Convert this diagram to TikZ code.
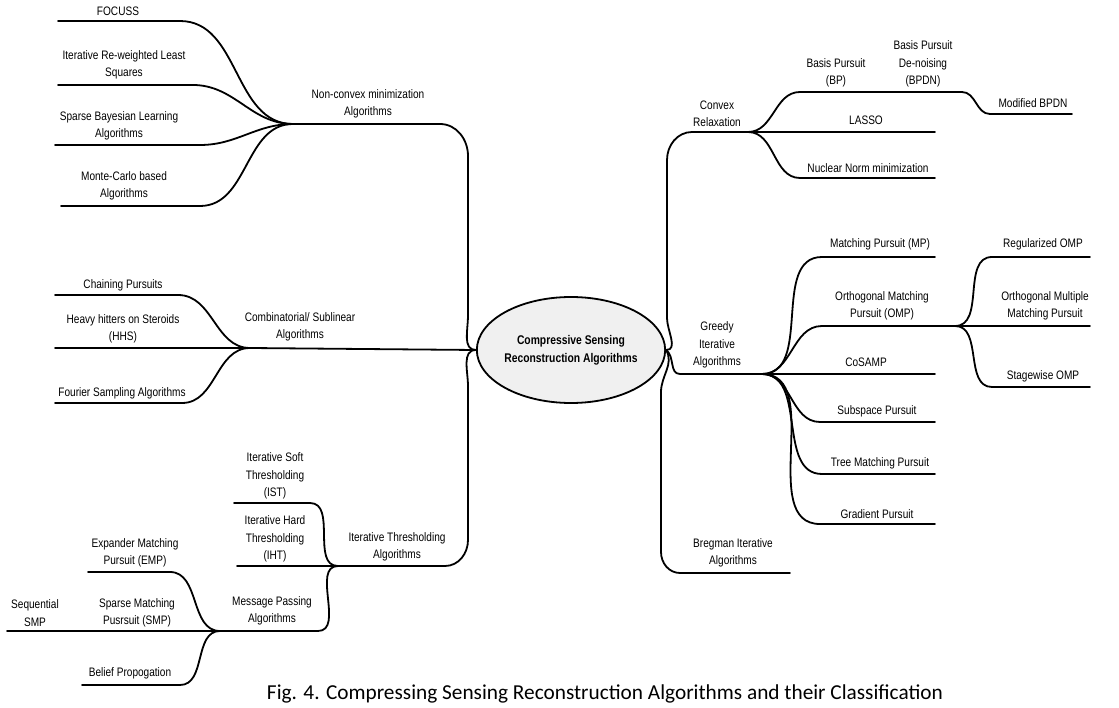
\documentclass[tikz,border=0pt]{standalone}
\usepackage{fontspec}
\usetikzlibrary{shapes.geometric}
\setmainfont{Liberation Sans}
\newfontfamily\labelfont[FakeStretch=0.82]{Liberation Sans}
\newfontfamily\capfont{Carlito}
\begin{document}
\begin{tikzpicture}[x=1pt,y=-1pt,
  lbl/.style={font=\labelfont\fontsize{12.3}{17.5}\selectfont, align=center, inner sep=0pt},
  branch/.style={line width=1.8pt, line cap=round, line join=round},
  hub/.style={ellipse, draw, line width=1.8pt, fill=black!6, minimum width=152pt, minimum height=106pt, inner sep=0pt,
    font=\labelfont\bfseries\fontsize{12.6}{18}\selectfont, align=center}]
\useasboundingbox (0,0) rectangle (1119,708);

% ---------- coordinates ----------
% non-convex
\coordinate (ncJ) at (293,124);
\coordinate (ncA) at (440,124);
\coordinate (ncB) at (468,156);
\coordinate (ncC) at (468,316);
\coordinate (focL) at (58,21);  \coordinate (focR) at (180,21);
\coordinate (irlL) at (58,85);  \coordinate (irlR) at (193,85);
\coordinate (sblL) at (55,145); \coordinate (sblR) at (200,145);
\coordinate (mcL) at (61,206);  \coordinate (mcR) at (200,206);
% combinatorial
\coordinate (cbJ) at (250,348);
\coordinate (chL) at (55,295);  \coordinate (chR) at (178,295);
\coordinate (hhL) at (55,348);
\coordinate (foL) at (55,403);  \coordinate (foR) at (182,403);
% iterative thresholding
\coordinate (itJ) at (338,566);
\coordinate (itA) at (445,566);
\coordinate (itB) at (468,540);
\coordinate (itC) at (468,386);
\coordinate (isL) at (234,503); \coordinate (isR) at (310,503);
\coordinate (ihL) at (237,566);
% message passing
\coordinate (mpJ) at (220,631);
\coordinate (mpA) at (318,631);
\coordinate (emL) at (88,572);  \coordinate (emR) at (170,572);
\coordinate (smL) at (85,631);
\coordinate (sqL) at (7,631);
\coordinate (bpL) at (82,685);  \coordinate (bpR) at (180,685);
% convex
\coordinate (cvA) at (667,318);
\coordinate (cvB) at (667,160);
\coordinate (cvC) at (692,132);
\coordinate (cvJ) at (748,132);
\coordinate (bsL) at (800,92);  \coordinate (bsR) at (880,92);
\coordinate (bdJ) at (962,92);
\coordinate (mbL) at (990,114); \coordinate (mbR) at (1072,114);
\coordinate (laR) at (935,132);
\coordinate (nnL) at (800,178); \coordinate (nnR) at (935,178);
% greedy
\coordinate (grA) at (680,374);
\coordinate (grJ) at (762,374);
\coordinate (mpuL) at (822,257); \coordinate (mpuR) at (935,257);
\coordinate (omL) at (822,326);
\coordinate (omJ) at (955,326);
\coordinate (roL) at (992,257); \coordinate (roR) at (1090,257);
\coordinate (mmR) at (1090,326);
\coordinate (swL) at (992,387); \coordinate (swR) at (1090,387);
\coordinate (coR) at (935,374);
\coordinate (ssL) at (820,422); \coordinate (ssR) at (935,422);
\coordinate (tmL) at (822,474); \coordinate (tmR) at (935,474);
\coordinate (gpL) at (820,524); \coordinate (gpR) at (935,524);
% bregman
\coordinate (brA) at (661,392);
\coordinate (brB) at (661,552);
\coordinate (brC) at (680,573);
\coordinate (brR) at (790,573);

% ---------- hub ----------
\node[hub] (cs) at (571,350) {Compressive Sensing\\Reconstruction Algorithms};

% ---------- labels ----------
\node[lbl] (nc) at (368,104) {Non-convex minimization\\Algorithms};
\node[lbl] (foc) at (118,11) {FOCUSS};
\node[lbl] (irl) at (124,65) {Iterative Re-weighted Least\\Squares};
\node[lbl] (sbl) at (119,126) {Sparse Bayesian Learning\\Algorithms};
\node[lbl] (mc) at (124,186) {Monte-Carlo based\\Algorithms};

\node[lbl] (cb) at (300,327) {Combinatorial/ Sublinear\\Algorithms};
\node[lbl] (ch) at (123,285) {Chaining Pursuits};
\node[lbl] (hh) at (123,329) {Heavy hitters on Steroids\\(HHS)};
\node[lbl] (fo) at (122,393) {Fourier Sampling Algorithms};

\node[lbl] (it) at (397,547) {Iterative Thresholding\\Algorithms};
\node[lbl] (is) at (275,476) {Iterative Soft\\Thresholding\\(IST)};
\node[lbl] (ih) at (275,539) {Iterative Hard\\Thresholding\\(IHT)};
\node[lbl] (mp) at (272,611) {Message Passing\\Algorithms};
\node[lbl] (em) at (135,553) {Expander Matching\\Pursuit (EMP)};
\node[lbl] (sm) at (137,613) {Sparse Matching\\Pusrsuit (SMP)};
\node[lbl] (sq) at (35,613) {Sequential\\SMP};
\node[lbl] (bp) at (130,673) {Belief Propogation};

\node[lbl] (cv) at (717,114) {Convex\\Relaxation};
\node[lbl] (bs) at (836,73) {Basis Pursuit\\(BP)};
\node[lbl] (bd) at (923,64) {Basis Pursuit\\De-noising\\(BPDN)};
\node[lbl] (mb) at (1033,103) {Modified BPDN};
\node[lbl] (la) at (866,120) {LASSO};
\node[lbl] (nn) at (868,168) {Nuclear Norm minimization};

\node[lbl] (gr) at (717,345) {Greedy\\Iterative\\Algorithms};
\node[lbl] (mpu) at (880,244) {Matching Pursuit (MP)};
\node[lbl] (om) at (882,306) {Orthogonal Matching\\Pursuit (OMP)};
\node[lbl] (ro) at (1043,244) {Regularized OMP};
\node[lbl] (mm) at (1045,306) {Orthogonal Multiple\\Matching Pursuit};
\node[lbl] (sw) at (1043,376) {Stagewise OMP};
\node[lbl] (co) at (866,362) {CoSAMP};
\node[lbl] (ss) at (877,411) {Subspace Pursuit};
\node[lbl] (tm) at (880,463) {Tree Matching Pursuit};
\node[lbl] (gp) at (877,514) {Gradient Pursuit};

\node[lbl] (br) at (733,553) {Bregman Iterative\\Algorithms};

\node[font=\capfont\fontsize{21.3}{24}\selectfont, inner sep=0pt] (cap) at (605,694)
  {Fig. 4. Compressing Sensing Reconstruction Algorithms and their Classification};

% ---------- connectors ----------
\begin{scope}[branch]
% left trunks
\draw (ncJ) -- (ncA) to[out=0,in=90] (ncB) -- (ncC) to[out=270,in=180] (cs.west);
\draw (cbJ) -- (cs.west);
\draw (itJ) -- (itA) to[out=0,in=270] (itB) -- (itC) to[out=90,in=180] (cs.west);
% non-convex children
\draw (focL) -- (focR) to[out=0,in=180] (ncJ);
\draw (irlL) -- (irlR) to[out=0,in=180] (ncJ);
\draw (sblL) -- (sblR) to[out=0,in=180] (ncJ);
\draw (mcL) -- (mcR) to[out=0,in=180] (ncJ);
% combinatorial children
\draw (chL) -- (chR) to[out=0,in=180] (cbJ);
\draw (hhL) -- (cbJ);
\draw (foL) -- (foR) to[out=0,in=180] (cbJ);
% iterative thresholding children
\draw (isL) -- (isR) to[out=0,in=180] (itJ);
\draw (ihL) -- (itJ);
\draw (mpJ) -- (mpA) to[out=0,in=180] (itJ);
% message passing children
\draw (emL) -- (emR) to[out=0,in=180] (mpJ);
\draw (smL) -- (mpJ);
\draw (sqL) -- (smL);
\draw (bpL) -- (bpR) to[out=0,in=180] (mpJ);
% right trunks
\draw (cs.east) to[out=0,in=270] (cvA) -- (cvB) to[out=90,in=180] (cvC) -- (cvJ);
\draw (cs.east) to[out=-35,in=180] (grA) -- (grJ);
\draw (cs.east) to[out=-60,in=90] (brA) -- (brB) to[out=270,in=180] (brC) -- (brR);
% convex children
\draw (cvJ) to[out=0,in=180] (bsL) -- (bsR) -- (bdJ);
\draw (bdJ) to[out=0,in=180] (mbL) -- (mbR);
\draw (cvJ) -- (laR);
\draw (cvJ) to[out=0,in=180] (nnL) -- (nnR);
% greedy children
\draw (grJ) to[out=0,in=180] (mpuL) -- (mpuR);
\draw (grJ) to[out=0,in=180] (omL) -- (omJ);
\draw (omJ) to[out=0,in=180] (roL) -- (roR);
\draw (omJ) -- (mmR);
\draw (omJ) to[out=0,in=180] (swL) -- (swR);
\draw (grJ) -- (coR);
\draw (grJ) to[out=0,in=180] (ssL) -- (ssR);
\draw (grJ) to[out=0,in=180] (tmL) -- (tmR);
\draw (grJ) to[out=0,in=180] (gpL) -- (gpR);
\end{scope}
\end{tikzpicture}
\end{document}
